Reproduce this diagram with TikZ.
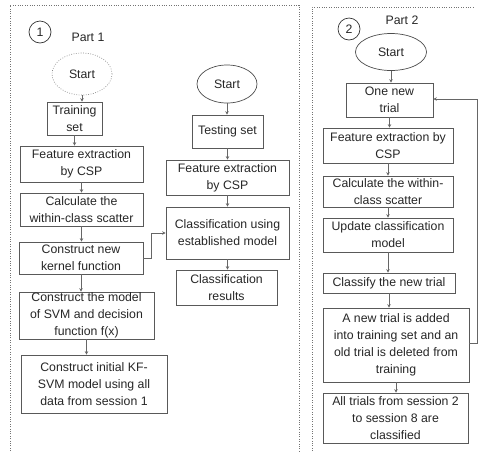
\documentclass[tikz,border=0pt]{standalone}
\usepackage{fontspec}
\setmainfont{Liberation Sans}
\usetikzlibrary{shapes.geometric,arrows.meta}
\begin{document}
\begin{tikzpicture}[x=1pt,y=-1pt,
  every node/.style={font=\fontsize{12.3}{17}\selectfont, text=black!85},
  box/.style={draw=black!65, line width=0.7pt, rectangle, inner sep=0pt, align=center},
  oval/.style={draw=black!70, line width=0.7pt, ellipse, inner sep=0pt},
  numc/.style={draw=black!80, line width=0.7pt, circle, inner sep=0pt, minimum size=22pt},
  arr/.style={draw=black!60, line width=0.7pt, -{Stealth[length=3.5pt,width=3.5pt]}},
  frame/.style={draw=black!55, line width=0.8pt, dash pattern=on 0.8pt off 1.6pt}]
\useasboundingbox (0,0) rectangle (478,451);
% frames
\draw[frame] (10,451) -- (10,5) -- (299,5) -- (299,451);
\draw[frame] (312,451) -- (312,7) -- (474,7);
% Part 1
\node[numc] (c1) at (40,32) {1};
\node (p1) at (88,37) {Part 1};
\node[oval, draw=black!45, dash pattern=on 0.8pt off 1.6pt, minimum width=60pt, minimum height=42pt] (s1) at (82,74) {Start};
\node[box, minimum width=55pt, minimum height=33pt] (train) at (74.5,118.5) {Training\\set};
\node[box, minimum width=123pt, minimum height=36pt] (fe1) at (81.5,164) {Feature extraction\\by CSP};
\node[box, minimum width=123pt, minimum height=33pt] (calc1) at (81.5,209.5) {Calculate the\\within-class scatter};
\node[box, minimum width=124pt, minimum height=32pt] (kern) at (81,258) {Construct new\\kernel function};
\node[box, minimum width=135pt, minimum height=47pt] (svm) at (86.5,315.5) {Construct the model\\of SVM and decision\\function f(x)};
\node[box, minimum width=146pt, minimum height=58pt] (init) at (94,384) {Construct initial KF-\\SVM model using all\\data from session 1};
\draw[arr] (s1.south) -- (s1.south |- train.north);
\draw[arr] (train.south) -- (train.south |- fe1.north);
\draw[arr] (fe1.south) -- (fe1.south |- calc1.north);
\draw[arr] (calc1.south) -- (calc1.south |- kern.north);
\draw[arr] (kern.south) -- (kern.south |- svm.north);
\draw[arr] (svm.south) -- (svm.south |- init.north);
% testing column
\node[oval, minimum width=60pt, minimum height=38pt] (s2) at (227,84) {Start};
\node[box, minimum width=71pt, minimum height=33pt] (test) at (227.5,131.5) {Testing set};
\node[box, minimum width=123pt, minimum height=35pt] (fe2) at (227.5,177.5) {Feature extraction\\by CSP};
\node[box, minimum width=123pt, minimum height=52pt] (cls) at (227.5,233) {Classification using\\established model};
\node[box, minimum width=101pt, minimum height=35pt] (res) at (226.5,287.5) {Classification\\results};
\draw[arr] (s2.south) -- (s2.south |- test.north);
\draw[arr] (test.south) -- (test.south |- fe2.north);
\draw[arr] (fe2.south) -- (fe2.south |- cls.north);
\draw[arr] (cls.south) -- (cls.south |- res.north);
\coordinate (k1) at (151,258);
\coordinate (k2) at (151,233);
\draw[arr] (kern.east) -- (k1) -- (k2) -- (cls.west);
% Part 2
\node[numc] (c2) at (349,29) {2};
\node (p2) at (402,20) {Part 2};
\node[oval, minimum width=71pt, minimum height=37pt] (s3) at (391,52) {Start};
\node[box, minimum width=87pt, minimum height=34pt] (onet) at (389.5,100) {One new\\trial};
\node[box, minimum width=130pt, minimum height=35pt] (fe3) at (388,145.5) {Feature extraction by\\CSP};
\node[box, minimum width=130pt, minimum height=31pt] (calc3) at (388,191.5) {Calculate the within-\\class scatter};
\node[box, minimum width=130pt, minimum height=34pt] (upd) at (388,235) {Update classification\\model};
\node[box, minimum width=132pt, minimum height=20pt] (clsf) at (389,283) {Classify the new trial};
\node[box, minimum width=146pt, minimum height=74pt] (newt) at (396,345) {A new trial is added\\into training set and an\\old trial is deleted from\\training};
\node[box, minimum width=145pt, minimum height=50pt] (all) at (395.5,418) {All trials from session 2\\to session 8 are\\classified};
\draw[arr] (s3.south) -- (s3.south |- onet.north);
\draw[arr] (onet.south) -- (onet.south |- fe3.north);
\draw[arr] (fe3.south) -- (fe3.south |- calc3.north);
\draw[arr] (calc3.south) -- (calc3.south |- upd.north);
\draw[arr] (upd.south) -- (upd.south |- clsf.north);
\draw[arr] (clsf.south) -- (clsf.south |- newt.north);
\draw[arr] (newt.south) -- (newt.south |- all.north);
\coordinate (f1) at (477,343);
\coordinate (f2) at (477,99);
\draw[arr] (newt.east |- f1) -- (f1) -- (f2) -- (onet.east |- f2);
\end{tikzpicture}
\end{document}
